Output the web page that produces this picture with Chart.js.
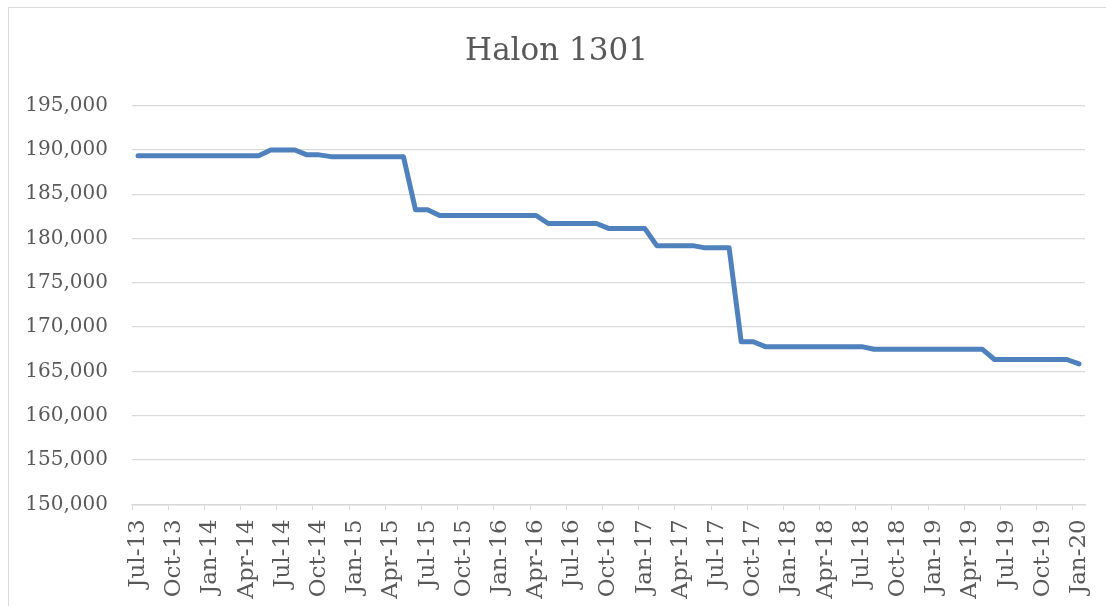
<!DOCTYPE html>
<html>
<head>
<meta charset="utf-8">
<script src="https://cdn.jsdelivr.net/npm/chart.js@4/dist/chart.umd.min.js"></script>
<style>
  html, body { margin: 0; padding: 0; background: #fff; }
  #wrap { position: relative; width: 1106px; height: 606px; overflow: hidden; }
  #frame { position: absolute; left: 8px; top: 7px; width: 1200px; height: 700px;
           border-left: 1px solid #d9d9d9; border-top: 1px solid #d9d9d9; }
  #chart { position: absolute; left: 0; top: 0; }
</style>
</head>
<body>
<div id="wrap">
  <div id="frame"></div>
  <canvas id="chart" width="1106" height="606"></canvas>
</div>
<script>
// ── Data ───────────────────────────────────────────────
const MONTHS = ['Jan','Feb','Mar','Apr','May','Jun','Jul','Aug','Sep','Oct','Nov','Dec'];

// monthly categories, Jul-13 .. Jan-20
const labels = [];
for (let y = 2013, m = 6; ; m++) {
  if (m === 12) { m = 0; y++; }
  labels.push(MONTHS[m] + '-' + String(y).slice(2));
  if (y === 2020 && m === 0) break;
}

const halon = [
  // 2013 (Jul-Dec)
  189350, 189350, 189350, 189350, 189350, 189350,
  // 2014
  189350, 189350, 189350, 189350, 189350, 190000, 190000, 190000, 189450, 189450, 189250, 189250,
  // 2015
  189250, 189250, 189250, 189250, 189250, 183250, 183250, 182600, 182600, 182600, 182600, 182600,
  // 2016
  182600, 182600, 182600, 182600, 181700, 181700, 181700, 181700, 181700, 181150, 181150, 181150,
  // 2017
  181150, 179200, 179200, 179200, 179200, 178950, 178950, 178950, 168350, 168350, 167800, 167800,
  // 2018
  167800, 167800, 167800, 167800, 167800, 167800, 167800, 167500, 167500, 167500, 167500, 167500,
  // 2019
  167500, 167500, 167500, 167500, 167500, 166350, 166350, 166350, 166350, 166350, 166350, 166350,
  // 2020
  165850
];

const Y_MIN = 150000, Y_MAX = 195000, Y_STEP = 5000;

// ── Chart ──────────────────────────────────────────────
const TEXT = '#595959';
const GRID = '#d9d9d9';
const FONT = '"DejaVu Serif", "Liberation Serif", serif';

new Chart(document.getElementById('chart'), {
  type: 'line',
  data: {
    labels,
    datasets: [{
      label: 'Halon 1301',
      data: halon,
      borderColor: '#4f81bd',
      borderWidth: 5,
      borderCapStyle: 'round',
      borderJoinStyle: 'round',
      pointRadius: 0,
      tension: 0,
      fill: false
    }]
  },
  options: {
    responsive: false,
    animation: false,
    layout: { padding: { top: 17.5, right: 21, left: 28, bottom: 0 } },
    plugins: {
      legend: { display: false },
      tooltip: { enabled: false },
      title: {
        display: true,
        text: 'Halon 1301',
        color: TEXT,
        font: { family: FONT, size: 31, weight: 'normal', lineHeight: 1.2 },
        padding: { top: 16, bottom: 35 }
      }
    },
    scales: {
      x: {
        offset: true,
        grid: {
          offset: true,
          drawOnChartArea: false,
          drawTicks: true,
          tickLength: 6,
          color: ctx => (ctx.index % 3 === 0 ? GRID : 'rgba(0,0,0,0)')
        },
        border: { display: true, color: GRID, width: 1.5 },
        ticks: {
          autoSkip: false,
          maxRotation: 90,
          minRotation: 90,
          padding: 9,
          color: TEXT,
          font: { family: FONT, size: 23 },
          callback: (v, i) => (i % 3 === 0 ? labels[i] : '')
        },
        afterFit: s => { s.height = 101.7; s.paddingLeft = 0; s.paddingRight = 0; }
      },
      y: {
        min: Y_MIN,
        max: Y_MAX,
        grid: { color: GRID, lineWidth: 1.3, drawTicks: false },
        border: { display: false },
        ticks: {
          stepSize: Y_STEP,
          padding: 24,
          color: TEXT,
          font: { family: FONT, size: 20 },
          callback: v => Number(v).toLocaleString('en-US')
        },
        afterFit: s => { s.width = 104; }
      }
    }
  }
});
</script>
</body>
</html>
